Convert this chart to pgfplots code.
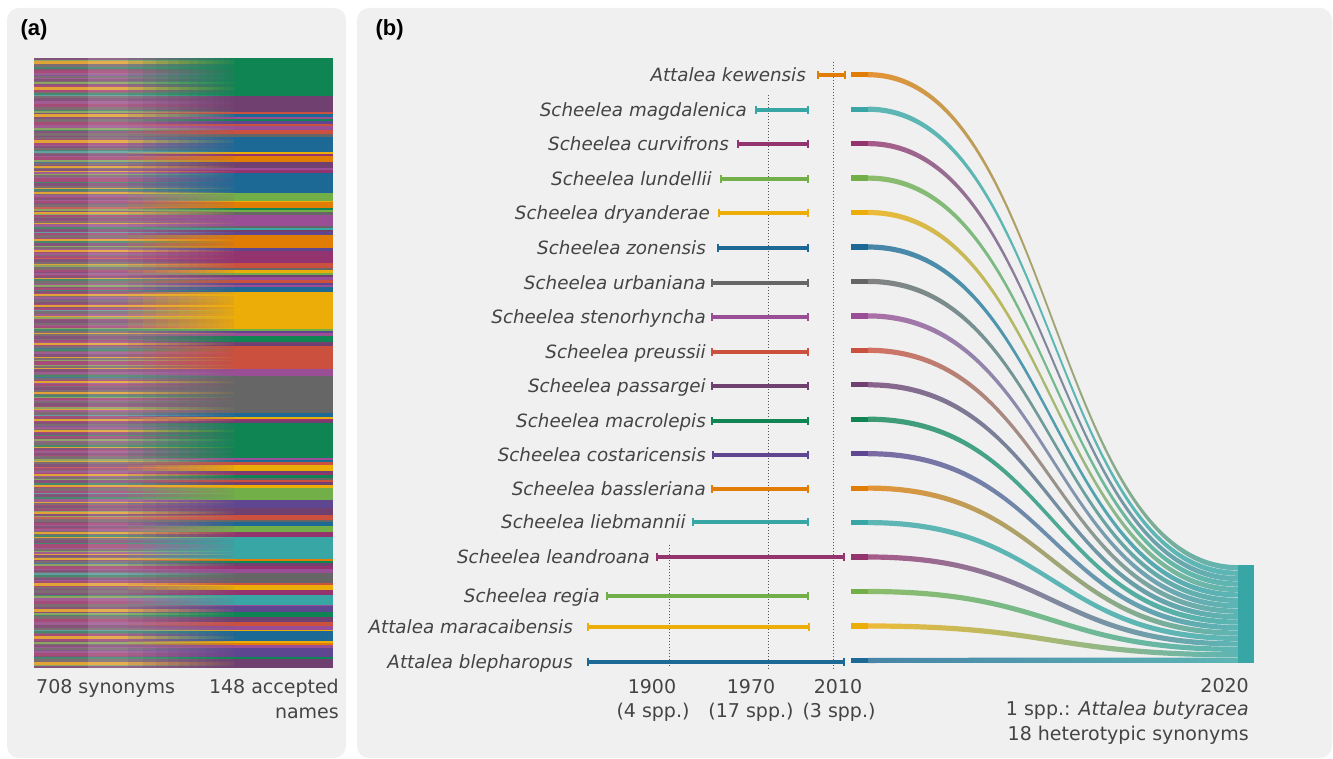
\documentclass[border=0pt]{standalone}
\usepackage{pgfplots}
\usepackage{pgfplotstable}
\pgfplotsset{compat=1.18}
\usepackage{fontspec}
\setmainfont{DejaVu Sans}
\newfontfamily\labfont{Liberation Sans}

\definecolor{panelbg}{HTML}{F0F0F0}
\definecolor{txt}{HTML}{444444}
\definecolor{dotc}{HTML}{555555}
\definecolor{cPu}{HTML}{5F4690}
\definecolor{cB}{HTML}{1D6996}
\definecolor{cT}{HTML}{38A6A5}
\definecolor{cGr}{HTML}{0F8554}
\definecolor{cLg}{HTML}{73AF48}
\definecolor{cY}{HTML}{EDAD08}
\definecolor{cO}{HTML}{E17C05}
\definecolor{cR}{HTML}{CC503E}
\definecolor{cCr}{HTML}{94346E}
\definecolor{cDP}{HTML}{6F4070}
\definecolor{cPP}{HTML}{994E95}
\definecolor{cG}{HTML}{666666}
\definecolor{flowteal}{HTML}{5DB5B4}

\pgfplotsset{
  colormap={stripes}{rgb255=(127,91,149) rgb255=(80,116,153) rgb255=(99,158,164) rgb255=(71,135,107) rgb255=(141,165,98) rgb255=(226,163,54) rgb255=(218,129,52) rgb255=(200,96,90) rgb255=(165,76,120) rgb255=(132,83,121) rgb255=(160,93,146) rgb255=(125,108,114) rgb255=(125,108,114)},
  pix/.style={at={(0,0)}, anchor=south west, scale only axis, width=1333pt, height=759pt,
    xmin=0, xmax=1333, ymin=0, ymax=759, y dir=reverse, hide axis, clip=false},
  stripe/.style={scatter, only marks, mark=-, mark size=100pt,
    point meta={\thisrow{c}+0.5}, point meta min=0, point meta max=12,
    colormap name=stripes, colormap access=piecewise constant,
    scatter/use mapped color={draw=mapped color, fill=mapped color}}
}

% stripe colours of the synonyms (colour index per row)
\pgfplotstableread[row sep=\\]{
k c\\ 0 8\\ 1 5\\ 2 10\\ 3 3\\ 4 7\\ 5 9\\ 6 10\\ 7 8\\ 8 4\\ 9 7\\ 10 5\\ 11 10\\ 12 2\\ 13 8\\ 14 9\\ 15 7\\ 16 10\\ 17 3\\ 18 8\\ 19 5\\
20 10\\ 21 7\\ 22 9\\ 23 4\\ 24 8\\ 25 11\\ 26 10\\ 27 5\\ 28 7\\ 29 8\\ 30 3\\ 31 10\\ 32 9\\ 33 7\\ 34 1\\ 35 8\\ 36 10\\ 37 5\\ 38 4\\ 39 9\\
40 7\\ 41 8\\ 42 10\\ 43 3\\ 44 5\\ 45 9\\ 46 8\\ 47 7\\ 48 10\\ 49 6\\ 50 8\\ 51 4\\ 52 10\\ 53 7\\ 54 5\\ 55 9\\ 56 8\\ 57 2\\ 58 10\\ 59 7\\
60 3\\ 61 8\\ 62 10\\ 63 5\\ 64 9\\ 65 7\\ 66 8\\ 67 10\\ 68 4\\ 69 11\\ 70 8\\ 71 7\\ 72 5\\ 73 10\\ 74 9\\ 75 8\\ 76 3\\ 77 7\\ 78 10\\ 79 0\\
80 8\\ 81 5\\ 82 7\\ 83 10\\ 84 9\\ 85 4\\ 86 8\\ 87 10\\ 88 7\\ 89 3\\ 90 5\\ 91 8\\ 92 10\\ 93 9\\ 94 7\\ 95 1\\ 96 10\\ 97 8\\ 98 5\\ 99 4\\
100 7\\ 101 10\\ 102 8\\ 103 9\\ 104 3\\ 105 10\\ 106 5\\ 107 7\\ 108 8\\ 109 11\\ 110 10\\ 111 4\\ 112 9\\ 113 8\\ 114 7\\ 115 5\\ 116 10\\ 117 2\\ 118 8\\ 119 7\\
120 10\\ 121 9\\ 122 5\\ 123 8\\ 124 7\\ 125 4\\ 126 10\\ 127 3\\ 128 8\\ 129 9\\ 130 7\\ 131 10\\ 132 5\\ 133 8\\ 134 6\\ 135 10\\ 136 7\\ 137 9\\ 138 4\\ 139 8\\
140 5\\ 141 10\\ 142 7\\ 143 8\\ 144 3\\ 145 9\\ 146 10\\ 147 8\\ 148 7\\ 149 5\\ 150 4\\ 151 10\\ 152 8\\ 153 9\\ 154 7\\ 155 11\\ 156 10\\ 157 5\\ 158 8\\ 159 3\\
160 7\\ 161 10\\ 162 9\\ 163 8\\ 164 5\\ 165 10\\ 166 4\\ 167 7\\ 168 8\\ 169 2\\ 170 10\\ 171 9\\ 172 5\\ 173 7\\ 174 8\\ 175 10\\ 176 3\\ 177 9\\ 178 7\\ 179 10\\
180 8\\ 181 5\\ 182 4\\ 183 10\\ 184 7\\ 185 9\\ 186 8\\ 187 10\\ 188 3\\ 189 7\\ 190 5\\ 191 8\\ 192 10\\ 193 9\\ 194 0\\ 195 7\\ 196 8\\ 197 10\\ 198 5\\ 199 4\\
}\stripetable

% panel (a): accepted-name blocks (y from, y to, colour)
\newcommand{\blk}[3]{%
  \addplot[fill=#3, draw=none] coordinates {(234,#1) (333,#1) (333,#2) (234,#2)};
  \fill[#3, opacity=0.14] (axis cs:128,#1) rectangle (axis cs:234,#2);
  \fill[#3, opacity=0.14] (axis cs:143,#1) rectangle (axis cs:234,#2);
  \fill[#3, opacity=0.14] (axis cs:156,#1) rectangle (axis cs:234,#2);
  \fill[#3, opacity=0.14] (axis cs:168,#1) rectangle (axis cs:234,#2);
  \fill[#3, opacity=0.15] (axis cs:179,#1) rectangle (axis cs:234,#2);
  \fill[#3, opacity=0.15] (axis cs:189,#1) rectangle (axis cs:234,#2);
  \fill[#3, opacity=0.16] (axis cs:198,#1) rectangle (axis cs:234,#2);
  \fill[#3, opacity=0.17] (axis cs:206,#1) rectangle (axis cs:234,#2);
  \fill[#3, opacity=0.18] (axis cs:213,#1) rectangle (axis cs:234,#2);
  \fill[#3, opacity=0.2] (axis cs:219,#1) rectangle (axis cs:234,#2);
  \fill[#3, opacity=0.22] (axis cs:224,#1) rectangle (axis cs:234,#2);
  \fill[#3, opacity=0.25] (axis cs:229,#1) rectangle (axis cs:234,#2);
}
% panel (b): y, start, end, colour, label end, label, flow end y, node y
\newcommand{\brow}[8]{%
  \addplot[color=#4, line width=3.4pt, mark=|, mark size=4pt, mark options={line width=1.8pt}] coordinates {(#2,#1) (#3,#1)};
  \node[anchor=base east, text=txt, font=\fontsize{18.3}{20}\selectfont\itshape, inner sep=0pt] at (axis cs:#5,#1+6.5) {#6};
  \addplot[color=#4, line width=5.2pt] coordinates {(851,#8) (868,#8)};
  \shade[left color=#4!80!panelbg, right color=flowteal]
    (axis cs:868,#8-2.6) .. controls (axis cs:1053,#8-2.6) and (axis cs:1053,#7-2.6) .. (axis cs:1238,#7-2.6)
    -- (axis cs:1238,#7+2.6) .. controls (axis cs:1053,#7+2.6) and (axis cs:1053,#8+2.6) .. (axis cs:868,#8+2.6) -- cycle;
}

\begin{document}
\begin{tikzpicture}
\fill[white] (0,0) rectangle (1333pt,759pt);
\fill[panelbg, rounded corners=12pt] (7pt,1pt) rectangle (346pt,751pt);
\fill[panelbg, rounded corners=12pt] (357pt,1pt) rectangle (1332pt,751pt);

% ---------- panel (a): synonym stripes ----------
\begin{axis}[pix]
\addplot[stripe, mark options={line width=3.3pt}]
  table[x expr=134, y expr={59.525+3.05*\thisrow{k}}] {\stripetable};
\addplot[stripe, mark options={line width=1.55pt}]
  table[x expr=134, y expr={667.24-3.05*\thisrow{k}}] {\stripetable};
\end{axis}

\begin{axis}[pix]
% ---------- panel (a): accepted names ----------
\fill[white, opacity=0.12] (axis cs:88,58) rectangle (axis cs:234,668);

\blk{58}{96}{cGr}
\blk{96}{112}{cDP}
\blk{112}{114}{cR}
\blk{114}{117}{cB}
\blk{117}{119}{cPP}
\blk{119}{121}{cGr}
\blk{121}{124}{cPu}
\blk{124}{126}{cR}
\blk{126}{130}{cPP}
\blk{130}{134}{cR}
\blk{134}{137}{cG}
\blk{137}{152}{cB}
\blk{152}{154}{cY}
\blk{154}{156}{cCr}
\blk{156}{162}{cO}
\blk{162}{168}{cDP}
\blk{168}{170}{cPP}
\blk{170}{173}{cCr}
\blk{173}{193}{cB}
\blk{193}{201}{cLg}
\blk{201}{202}{cY}
\blk{202}{208}{cO}
\blk{208}{210}{cGr}
\blk{210}{212}{cLg}
\blk{212}{215}{cG}
\blk{215}{226}{cPP}
\blk{226}{228}{cG}
\blk{228}{230}{cT}
\blk{230}{232}{cDP}
\blk{232}{235}{cPu}
\blk{235}{248}{cO}
\blk{248}{251}{cPu}
\blk{251}{263}{cCr}
\blk{263}{268}{cR}
\blk{268}{270}{cG}
\blk{270}{273}{cY}
\blk{273}{275}{cLg}
\blk{275}{277}{cDP}
\blk{277}{280}{cPP}
\blk{280}{283}{cR}
\blk{283}{285}{cPu}
\blk{285}{287}{cPP}
\blk{287}{292}{cB}
\blk{292}{329}{cY}
\blk{329}{331}{cLg}
\blk{331}{333}{cPu}
\blk{333}{336}{cPP}
\blk{336}{342}{cGr}
\blk{342}{346}{cDP}
\blk{346}{369}{cR}
\blk{369}{376}{cPP}
\blk{376}{413}{cG}
\blk{413}{417}{cB}
\blk{417}{419}{cY}
\blk{419}{421}{cCr}
\blk{421}{423}{cDP}
\blk{423}{458}{cGr}
\blk{458}{460}{cPP}
\blk{460}{462}{cB}
\blk{462}{465}{cR}
\blk{465}{471}{cY}
\blk{471}{473}{cDP}
\blk{473}{475}{cCr}
\blk{475}{478}{cGr}
\blk{478}{480}{cG}
\blk{480}{482}{cR}
\blk{482}{485}{cDP}
\blk{485}{488}{cY}
\blk{488}{500}{cLg}
\blk{500}{508}{cPu}
\blk{508}{515}{cDP}
\blk{515}{520}{cR}
\blk{520}{522}{cG}
\blk{522}{526}{cB}
\blk{526}{532}{cLg}
\blk{532}{537}{cCr}
\blk{537}{559}{cT}
\blk{559}{561}{cO}
\blk{561}{563}{cGr}
\blk{563}{566}{cDP}
\blk{566}{569}{cCr}
\blk{569}{573}{cPP}
\blk{573}{583}{cG}
\blk{583}{585}{cR}
\blk{585}{590}{cY}
\blk{590}{595}{cCr}
\blk{595}{605}{cT}
\blk{605}{606}{cPP}
\blk{606}{612}{cPu}
\blk{612}{617}{cGr}
\blk{617}{622}{cDP}
\blk{622}{626}{cR}
\blk{626}{630}{cPP}
\blk{630}{631}{cY}
\blk{631}{641}{cB}
\blk{641}{643}{cY}
\blk{643}{645}{cO}
\blk{645}{648}{cPP}
\blk{648}{657}{cPu}
\blk{657}{659}{cGr}
\blk{659}{668}{cDP}

\node[anchor=west, font=\labfont\bfseries\fontsize{22}{24}\selectfont] at (axis cs:17,30) {(a)};
\node[anchor=base west, text=txt, font=\fontsize{19}{21}\selectfont, inner sep=0pt] at (axis cs:36,693) {708 synonyms};
\node[anchor=base east, text=txt, font=\fontsize{19}{21}\selectfont, inner sep=0pt] at (axis cs:339,693) {148 accepted};
\node[anchor=base east, text=txt, font=\fontsize{19}{21}\selectfont, inner sep=0pt] at (axis cs:339,718) {names};

% ---------- panel (b) ----------
\node[anchor=west, font=\labfont\bfseries\fontsize{22}{24}\selectfont] at (axis cs:372,30) {(b)};
\addplot[dotted, line width=1pt, color=dotc] coordinates {(669,545) (669,667)};
\addplot[dotted, line width=1pt, color=dotc] coordinates {(768,95) (768,669)};
\addplot[dotted, line width=1pt, color=dotc] coordinates {(833,62) (833,669)};

\brow{75}{818}{845}{cO}{806}{Attalea kewensis}{567.7}{74.7}
\brow{110}{756}{808}{cT}{747}{Scheelea magdalenica}{573.2}{109.2}
\brow{144}{738}{808}{cCr}{729}{Scheelea curvifrons}{578.6}{143.6}
\brow{179}{721}{808}{cLg}{712}{Scheelea lundellii}{584.0}{178.1}
\brow{213}{719}{808}{cY}{710}{Scheelea dryanderae}{589.5}{212.5}
\brow{248}{718}{808}{cB}{706}{Scheelea zonensis}{594.9}{247.0}
\brow{283}{712}{808}{cG}{706}{Scheelea urbaniana}{600.4}{281.4}
\brow{317}{712}{808}{cPP}{706}{Scheelea stenorhyncha}{605.8}{315.9}
\brow{352}{712}{808}{cR}{706}{Scheelea preussii}{611.2}{350.3}
\brow{386}{712}{808}{cDP}{706}{Scheelea passargei}{616.7}{384.8}
\brow{421}{712}{808}{cGr}{706}{Scheelea macrolepis}{622.1}{419.2}
\brow{455}{713}{808}{cPu}{706}{Scheelea costaricensis}{627.6}{453.7}
\brow{489}{712}{808}{cO}{706}{Scheelea bassleriana}{633.0}{488.1}
\brow{522}{693}{808}{cT}{686}{Scheelea liebmannii}{638.4}{522.6}
\brow{557}{657}{844}{cCr}{650}{Scheelea leandroana}{643.9}{557.0}
\brow{596}{607}{808}{cLg}{600}{Scheelea regia}{649.3}{591.5}
\brow{627}{588}{809}{cY}{573}{Attalea maracaibensis}{654.8}{626.0}
\brow{662}{588}{844}{cB}{573}{Attalea blepharopus}{660.2}{660.4}

\addplot[fill=cT, draw=none] coordinates {(1238,565) (1254,565) (1254,663) (1238,663)};

\node[anchor=base, text=txt, font=\fontsize{19}{21}\selectfont, inner sep=0pt] at (axis cs:652,693) {1900};
\node[anchor=base, text=txt, font=\fontsize{19}{21}\selectfont, inner sep=0pt] at (axis cs:653,717) {(4 spp.)};
\node[anchor=base, text=txt, font=\fontsize{19}{21}\selectfont, inner sep=0pt] at (axis cs:751,693) {1970};
\node[anchor=base, text=txt, font=\fontsize{19}{21}\selectfont, inner sep=0pt] at (axis cs:751,717) {(17 spp.)};
\node[anchor=base, text=txt, font=\fontsize{19}{21}\selectfont, inner sep=0pt] at (axis cs:838,693) {2010};
\node[anchor=base, text=txt, font=\fontsize{19}{21}\selectfont, inner sep=0pt] at (axis cs:839,717) {(3 spp.)};
\node[anchor=base east, text=txt, font=\fontsize{19}{21}\selectfont, inner sep=0pt] at (axis cs:1249,692) {2020};
\node[anchor=base east, text=txt, font=\fontsize{19}{21}\selectfont, inner sep=0pt] at (axis cs:1249,715) {1 spp.: \textit{Attalea butyracea}};
\node[anchor=base east, text=txt, font=\fontsize{19}{21}\selectfont, inner sep=0pt] at (axis cs:1249,740) {18 heterotypic synonyms};
\end{axis}
\pgfresetboundingbox
\path (0,0) rectangle (1333pt,759pt);
\end{tikzpicture}
\end{document}
